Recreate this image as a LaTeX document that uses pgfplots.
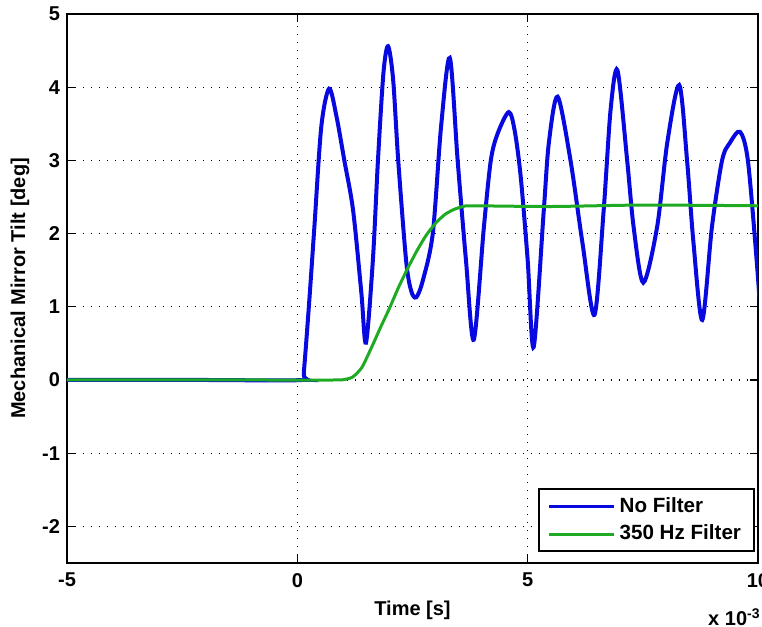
\documentclass[border=0pt]{standalone}
\usepackage{fontspec}
\setmainfont{Liberation Sans}
\usepackage{pgfplots}
\pgfplotsset{compat=1.18}
\definecolor{mblue}{RGB}{8,8,225}
\definecolor{mgreen}{RGB}{30,170,35}
\begin{document}
\begin{tikzpicture}
\begin{axis}[
  at={(0pt,0pt)}, anchor=south west,
  scale only axis,
  width=345.5pt, height=274.5pt,
  xmin=-0.005, xmax=0.01, ymin=-2.5, ymax=5,
  xtick={-0.005,0,0.005,0.01},
  ytick={-2,-1,0,1,2,3,4,5},
  scaled x ticks=base 10:3,
  xtick scale label code/.code={\bfseries x 10\textsuperscript{#1}},
  every x tick scale label/.style={at={(rel axis cs:1,0)}, anchor=north east, yshift=-21pt, xshift=1.5pt, inner sep=0pt},
  /pgf/number format/assume math mode=true,
  ticklabel style={font=\bfseries\fontsize{10}{12}\selectfont},
  xticklabel style={yshift=-1.5pt},
  tick align=inside,
  major tick length=4pt,
  tick style={black, line width=0.6pt},
  axis line style={line width=1pt},
  grid=major,
  major grid style={black, line width=0.6pt, dash pattern=on 0.6pt off 3.4pt},
  xlabel={Time [s]},
  ylabel={Mechanical Mirror Tilt [deg]},
  every axis x label/.style={at={([yshift=-23.5pt]axis description cs:0.5,0)}, anchor=center, font=\bfseries\fontsize{10}{12}\selectfont},
  every axis y label/.style={at={([xshift=-23.5pt]axis description cs:0,0.5)}, rotate=90, anchor=center, font=\bfseries\fontsize{10}{12}\selectfont},
  legend cell align=left,
  legend style={at={([xshift=-1.5pt,yshift=5.5pt]rel axis cs:1,0)}, anchor=south east,
    draw=black, line width=1pt, fill=white,
    font=\bfseries\fontsize{10.3}{12}\selectfont,
    inner xsep=4.5pt, inner ysep=2pt, row sep=1pt},
  legend image code/.code={\draw[#1, line width=1.5pt] (0pt,0pt) -- (32.5pt,0pt);},
]
\addplot[mblue, line width=2pt, smooth, tension=0.5] coordinates {
(-0.005,0) (-0.002,0) (0.0001,0) (0.00014,0.1) (0.00025,1.0) (0.00037,2.09) (0.00052,3.46) (0.00069,3.98)
(0.00085,3.6) (0.00102,3.0) (0.00121,2.32) (0.00139,1.19) (0.00149,0.51)
(0.00164,1.64) (0.00175,3.0) (0.00187,4.2) (0.00197,4.56)
(0.00208,4.1) (0.00219,3.0) (0.00236,1.64) (0.00247,1.22) (0.00258,1.13)
(0.00272,1.35) (0.00294,2.0) (0.00312,3.46) (0.00331,4.4)
(0.00348,3.0) (0.00366,1.64) (0.00383,0.55)
(0.00405,2.09) (0.0042,3.0) (0.00435,3.37) (0.00459,3.66)
(0.00472,3.4) (0.00485,2.77) (0.005,1.64) (0.00513,0.45)
(0.00535,2.32) (0.00546,3.24) (0.00565,3.87)
(0.00593,3.0) (0.00619,1.87) (0.00645,0.89)
(0.00665,2.32) (0.0068,3.69) (0.00695,4.23)
(0.00716,3.0) (0.0073,2.09) (0.00751,1.33)
(0.00781,2.09) (0.00803,3.24) (0.00829,4.03)
(0.00846,3.0) (0.0086,1.87) (0.00879,0.82)
(0.009,2.09) (0.00922,3.0) (0.00939,3.24) (0.00961,3.39)
(0.00978,3.0) (0.00997,1.64) (0.0101,0.5)
};
\addlegendentry{No Filter}
\addplot[mgreen, line width=1.5pt, smooth, tension=0.4] coordinates {
(-0.005,0) (-0.001,0) (0.0008,0) (0.001,0.005) (0.0012,0.04) (0.0014,0.17) (0.0016,0.43)
(0.0018,0.71) (0.002,0.98) (0.0022,1.27) (0.0024,1.53) (0.0026,1.77)
(0.0028,1.98) (0.003,2.14) (0.0032,2.26) (0.0034,2.33) (0.0036,2.37) (0.0038,2.38)
(0.0055,2.37) (0.0075,2.39) (0.01,2.38)
};
\addlegendentry{350 Hz Filter}
\end{axis}
\pgfresetboundingbox
\path[use as bounding box] (-33.5pt,-32pt) rectangle (347.5pt,281.5pt);
\end{tikzpicture}
\end{document}
